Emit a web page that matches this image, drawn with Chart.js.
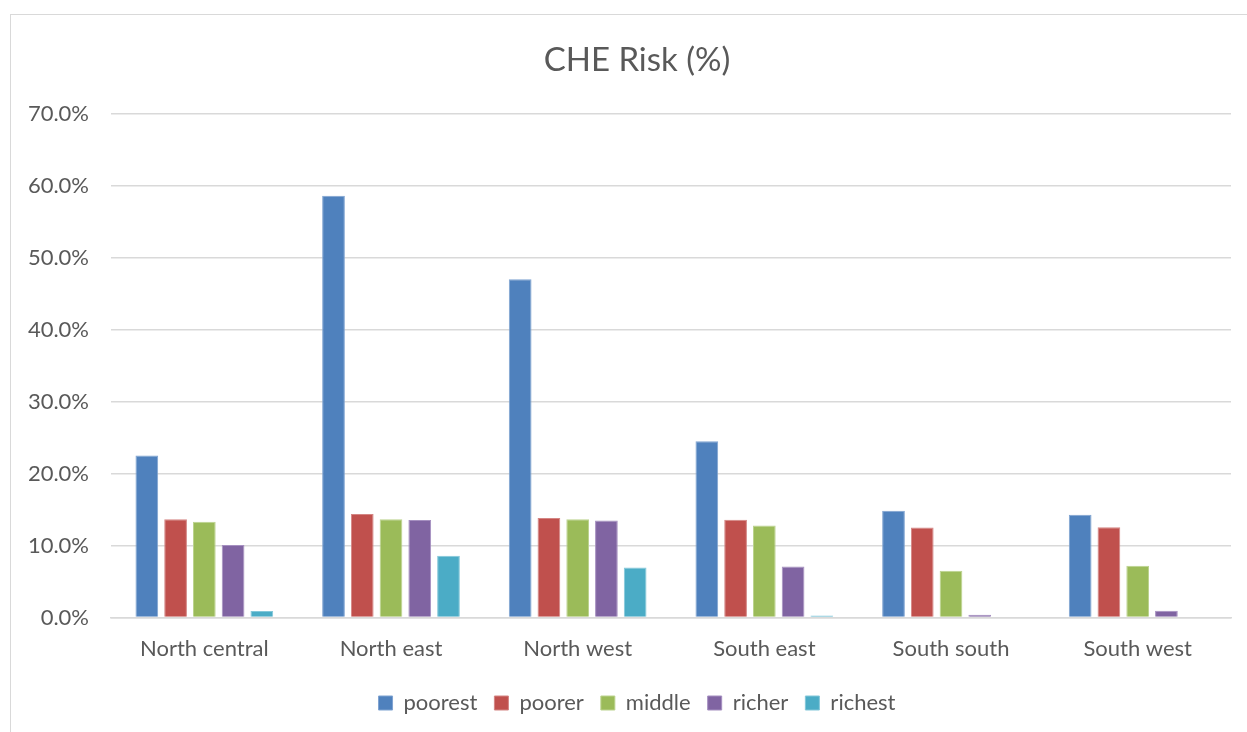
<!DOCTYPE html>
<html>
<head>
<meta charset="utf-8">
<script src="https://cdn.jsdelivr.net/npm/chart.js@4.4.1/dist/chart.umd.min.js"></script>
<style>
  html, body { margin: 0; padding: 0; background: #fff; overflow: hidden; width: 1247px; height: 732px; }
  #frame {
    position: absolute; left: 10px; top: 14px; width: 1252px; height: 730px;
    border-left: 1.5px solid #d9d9d9; border-top: 1.5px solid #d9d9d9;
  }
  #chart { position: absolute; left: 1px; top: 1px; }
</style>
</head>
<body>
<div id="frame"><canvas id="chart" width="1250" height="717"></canvas></div>
<script>
// Regions and catastrophic health expenditure risk by wealth quintile (%)
const regions = ["North central", "North east", "North west", "South east", "South south", "South west"];
const poorest = [22.5, 58.6, 47.0, 24.5, 14.85, 14.3];
const poorer  = [13.65, 14.4, 13.85, 13.6, 12.5, 12.55];
const middle  = [13.3, 13.65, 13.65, 12.8, 6.5, 7.2];
const richer  = [10.1, 13.55, 13.5, 7.1, 0.4, 0.95];
const richest = [0.9, 8.6, 6.95, 0.3, 0, 0];
const quintiles = ["poorest", "poorer", "middle", "richer", "richest"];
const colours = ["#4F81BD", "#C0504D", "#9BBB59", "#8064A2", "#4BACC6"];
const edges = ["#7fa3d1", "#d48583", "#bcd38f", "#a58fc0", "#83c7d9"];
const seriesValues = [poorest, poorer, middle, richer, richest];

const FONT = "Lato, 'Open Sans', sans-serif";
const GREY_TEXT = "#595959";

new Chart(document.getElementById("chart"), {
  type: "bar",
  data: {
    labels: regions,
    datasets: quintiles.map((name, i) => ({
      label: name,
      data: seriesValues[i],
      backgroundColor: colours[i],
      borderColor: edges[i],
      borderWidth: 1,
      categoryPercentage: 0.77,
      barPercentage: 0.79
    }))
  },
  options: {
    responsive: false,
    animation: false,
    layout: { padding: { left: 0, right: 0, top: 0, bottom: 9 } },
    plugins: {
      title: {
        display: true,
        text: "CHE Risk (%)",
        color: GREY_TEXT,
        font: { family: FONT, size: 33, weight: "normal" },
        padding: { top: 25, bottom: 33 }
      },
      legend: {
        position: "bottom",
        labels: {
          color: GREY_TEXT,
          font: { family: FONT, size: 22 },
          boxWidth: 14,
          boxHeight: 14,
          padding: 17
        }
      },
      tooltip: { enabled: false }
    },
    scales: {
      x: {
        afterFit: (scale) => { scale.height -= 5; },
        grid: { display: false, drawTicks: false },
        border: { color: "#d9d9d9", width: 1.5 },
        ticks: { color: GREY_TEXT, font: { family: FONT, size: 22 }, padding: 18 }
      },
      y: {
        min: 0,
        max: 70,
        afterFit: (scale) => { scale.width = 99; },
        border: { display: false },
        grid: { color: "#d9d9d9", lineWidth: 1.5, drawTicks: false },
        ticks: {
          stepSize: 10,
          color: GREY_TEXT,
          font: { family: FONT, size: 22 },
          padding: 22,
          callback: (v) => v.toFixed(1) + "%"
        }
      },
      // empty margin on the right of the plot so the title and legend stay centred on the frame
      gutter: {
        type: "linear",
        position: "right",
        afterFit: (scale) => { scale.width = 31; },
        border: { display: false },
        grid: { display: false, drawTicks: false },
        ticks: { display: false }
      }
    }
  }
});
</script>
</body>
</html>
